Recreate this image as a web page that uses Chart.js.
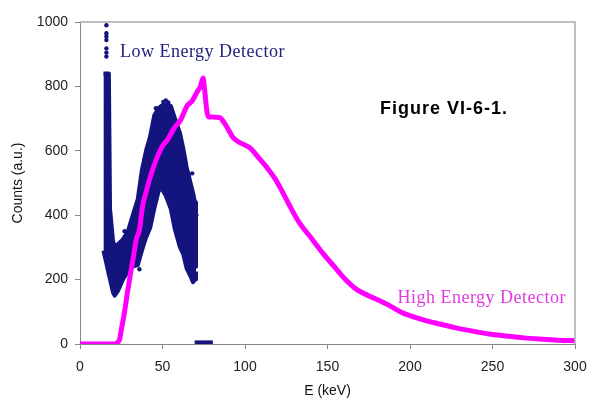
<!DOCTYPE html>
<html>
<head>
<meta charset="utf-8">
<script src="https://cdn.jsdelivr.net/npm/chart.js@4.4.0/dist/chart.umd.min.js"></script>
<style>
  html, body { margin: 0; padding: 0; background: #fff; }
  #wrap { width: 590px; height: 403px; }
</style>
</head>
<body>
<div id="wrap"><canvas id="myChart" width="590" height="403"></canvas></div>
<script>
// High energy detector spectrum (keV, counts)
var highKeV = [0, 10, 20, 22, 24, 25, 27, 29, 31, 33, 34, 36, 38, 40, 42, 46, 50, 53, 57, 61, 65, 68, 71, 73, 74.6, 75.5, 77, 78, 80, 85, 87, 89, 93, 97, 103, 108, 113, 118, 125, 127, 133, 140, 147, 155, 160, 168, 175, 180, 188, 195, 200, 208, 218, 228, 238, 248, 258, 269, 280, 290, 300];
var highCounts = [0, 0, 0, 2, 15, 43, 100, 168, 230, 290, 323, 354, 430, 470, 509, 570, 615, 634, 670, 696, 740, 755, 783, 800, 826, 790, 720, 705, 705, 702, 690, 674, 640, 625, 609, 580, 550, 515, 450, 430, 376, 330, 283, 235, 205, 168, 150, 138, 118, 98, 88, 75, 62, 50, 40, 31, 25, 19, 15, 12, 10];

// Low energy detector: the noisy cloud read as top and bottom edges
var lowKeV =    [14.2, 16, 17.5, 18.2, 20, 21, 23, 26, 29, 32, 35, 37.5, 40, 42.5, 45, 48, 50, 52, 55, 57.6, 60.6, 62.5, 64.6, 67, 68.5, 69.7, 70.3];
var lowTop =    [840, 840, 840, 420, 320, 305, 310, 325, 350, 400, 450, 540, 600, 645, 710, 735, 742, 742, 740, 700, 655, 610, 550, 500, 470, 440, 240];
var lowBottom = [290, 250, 215, 200, 160, 150, 165, 200, 225, 240, 245, 290, 330, 360, 420, 482, 478, 460, 420, 354, 300, 280, 235, 210, 192, 200, 225];

// loose points above the spike and around the cloud
var strayKeV =    [16, 16, 16, 16, 16, 16, 16, 50.5, 52, 53.5, 68, 46, 41, 37, 66, 70.5, 30.5, 36, 27, 58, 44];
var strayCounts = [990, 965, 955, 944, 918, 905, 893, 752, 756, 750, 530, 732, 560, 470, 520, 400, 300, 232, 350, 430, 470];

// small group near zero
var baseKeV = [69.5, 80.5];
var baseCounts = [5, 5];

var xTicks = [0, 50, 100, 150, 200, 250, 300];
var yTicks = [0, 200, 400, 600, 800, 1000];

var navy = '#14147e';
var magenta = '#ff00ff';

function pts(xs, ys) {
    var out = [];
    for (var i = 0; i < xs.length; i++) out.push({ x: xs[i], y: ys[i] });
    return out;
}

// box lines and the text labels on the plot
var extras = {
    id: 'extras',
    afterDraw: function (chart) {
        var c = chart.ctx, a = chart.chartArea;
        var sx = chart.scales.x, sy = chart.scales.y;
        c.save();
        c.strokeStyle = '#aaaaaa';
        c.lineWidth = 1.5;
        c.beginPath();
        c.moveTo(a.left, a.top);
        c.lineTo(a.right, a.top);
        c.lineTo(a.right, a.bottom);
        c.stroke();

        c.letterSpacing = '0.5px';
        c.textBaseline = 'alphabetic';
        c.font = '18px "Liberation Serif", "Times New Roman", serif';
        c.fillStyle = '#22227e';
        c.fillText('Low Energy Detector', sx.getPixelForValue(24.2), sy.getPixelForValue(891));
        c.fillStyle = '#e03ce0';
        c.fillText('High Energy Detector', sx.getPixelForValue(192.4), sy.getPixelForValue(127));

        c.letterSpacing = '1px';
        c.font = 'bold 18px "Liberation Sans", Arial, sans-serif';
        c.fillStyle = '#000';
        c.fillText('Figure VI-6-1.', sx.getPixelForValue(181.8), sy.getPixelForValue(713));
        c.restore();
    }
};

var ctx = document.getElementById('myChart').getContext('2d');
var myChart = new Chart(ctx, {
    type: 'scatter',
    data: {
        datasets: [{
            label: 'High Energy Detector',
            data: pts(highKeV, highCounts),
            showLine: true,
            borderColor: magenta,
            borderWidth: 5,
            cubicInterpolationMode: 'monotone',
            pointRadius: 0,
            fill: false,
            order: 0
        }, {
            label: 'Low bottom',
            data: pts(lowKeV, lowBottom),
            showLine: true,
            borderColor: navy,
            borderWidth: 4,
            borderJoinStyle: 'round',
            pointRadius: 0,
            fill: false,
            order: 2
        }, {
            label: 'Low Energy Detector',
            data: pts(lowKeV, lowTop),
            showLine: true,
            borderColor: navy,
            borderWidth: 4,
            borderJoinStyle: 'round',
            backgroundColor: navy,
            pointRadius: 0,
            fill: '-1',
            order: 2
        }, {
            label: 'stray',
            data: pts(strayKeV, strayCounts),
            pointRadius: 2.2,
            pointBackgroundColor: navy,
            pointBorderWidth: 0,
            order: 1
        }, {
            label: 'base',
            data: pts(baseKeV, baseCounts),
            showLine: true,
            borderColor: navy,
            borderWidth: 4,
            pointRadius: 0,
            order: 1
        }]
    },
    options: {
        responsive: false,
        animation: false,
        layout: { padding: { top: 22, right: 15, left: 0, bottom: 0 } },
        plugins: {
            legend: { display: false },
            tooltip: { enabled: false }
        },
        scales: {
            x: {
                type: 'linear',
                min: 0,
                max: 300,
                afterFit: function (s) { s.height = 59; s.paddingLeft = 0; s.paddingRight = 0; },
                afterBuildTicks: function (s) { s.ticks = xTicks.map(function (v) { return { value: v }; }); },
                grid: { display: true, drawOnChartArea: false, tickLength: 5, color: '#888' },
                border: { color: '#888', width: 1 },
                ticks: {
                    padding: 10,
                    color: '#222',
                    callback: function (v) { return String(v); },
                    font: { family: '"Liberation Sans", Arial, sans-serif', size: 14 }
                },
                title: {
                    display: true,
                    text: 'E (keV)',
                    color: '#111',
                    padding: { top: 0, bottom: 3 },
                    font: { family: '"Liberation Sans", Arial, sans-serif', size: 14 }
                }
            },
            y: {
                type: 'linear',
                min: 0,
                max: 1000,
                afterFit: function (s) { s.width = 80; s.paddingTop = 0; s.paddingBottom = 0; },
                afterBuildTicks: function (s) { s.ticks = yTicks.map(function (v) { return { value: v }; }); },
                grid: { display: true, drawOnChartArea: false, tickLength: 5, color: '#888' },
                border: { color: '#888', width: 1 },
                ticks: {
                    padding: 7,
                    color: '#222',
                    callback: function (v) { return String(v); },
                    font: { family: '"Liberation Sans", Arial, sans-serif', size: 14 }
                },
                title: {
                    display: true,
                    text: 'Counts (a.u.)',
                    color: '#111',
                    padding: { top: 10, bottom: 0 },
                    font: { family: '"Liberation Sans", Arial, sans-serif', size: 14 }
                }
            }
        }
    },
    plugins: [extras]
});
</script>
</body>
</html>
